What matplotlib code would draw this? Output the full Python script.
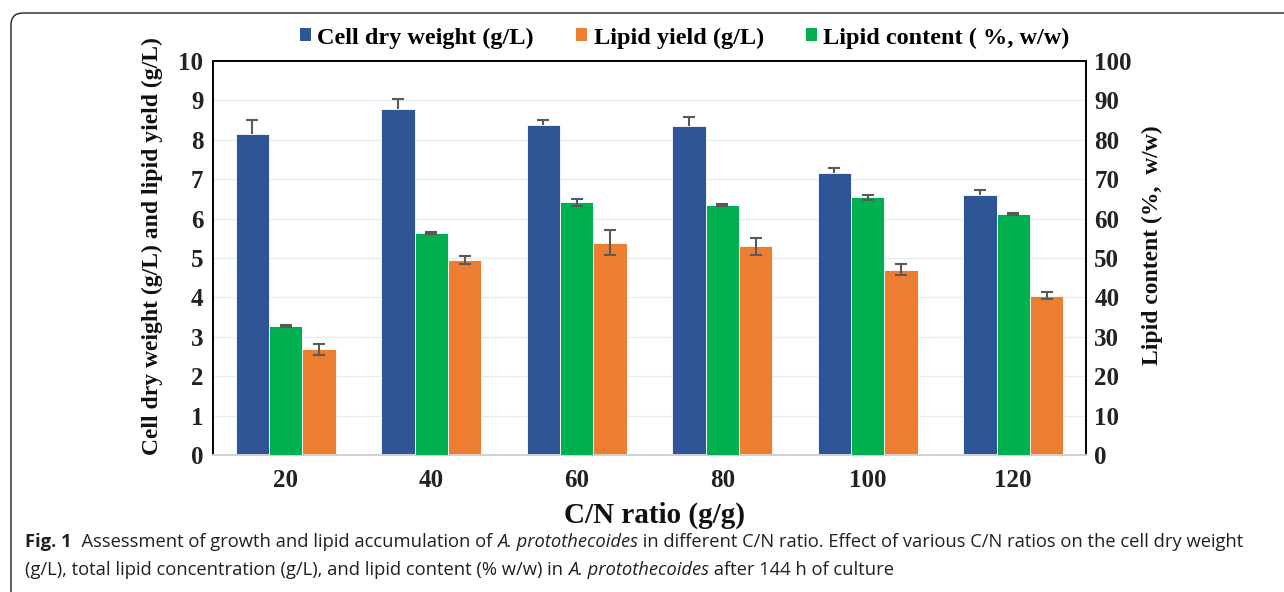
import matplotlib
matplotlib.use("Agg")
import matplotlib.pyplot as plt
from matplotlib import font_manager
from matplotlib.patches import FancyBboxPatch, Patch
from matplotlib.transforms import IdentityTransform
import numpy as np

# ---------------- data ----------------
categories = ["20", "40", "60", "80", "100", "120"]
cell_dry_weight = [8.15, 8.79, 8.38, 8.35, 7.15, 6.59]
cell_dry_weight_err = [0.35, 0.25, 0.12, 0.23, 0.14, 0.14]
lipid_yield = [2.68, 4.95, 5.39, 5.30, 4.70, 4.04]
lipid_yield_err = [0.13, 0.09, 0.32, 0.22, 0.14, 0.09]
lipid_content = [32.8, 56.4, 64.1, 63.5, 65.4, 61.2]
lipid_content_err = [0.3, 0.3, 0.8, 0.3, 0.6, 0.2]
left_ticks = list(range(0, 11))
right_ticks = list(range(0, 101, 10))

legend_labels = ["Cell dry weight (g/L)", "Lipid yield (g/L)", "Lipid content ( %, w/w)"]
left_label = "Cell dry weight (g/L) and lipid yield (g/L)"
right_label = "Lipid content (%,  w/w)"
x_label = "C/N ratio (g/g)"
caption_line1 = [("Fig. 1", "bold", "normal"),
                 ("  Assessment of growth and lipid accumulation of ", "normal", "normal"),
                 ("A. protothecoides", "normal", "italic"),
                 (" in different C/N ratio. Effect of various C/N ratios on the cell dry weight", "normal", "normal")]
caption_line2 = [("(g/L), total lipid concentration (g/L), and lipid content (% w/w) in ", "normal", "normal"),
                 ("A. protothecoides", "normal", "italic"),
                 (" after 144 h of culture", "normal", "normal")]

BLUE = "#2F5597"
ORANGE = "#ED7D31"
GREEN = "#00B050"
ERR = "#595959"

SERIF = "Liberation Serif"
avail = {f.name for f in font_manager.fontManager.ttflist}
CAP_FONT = "DejaVu Sans"
for cand in ["Open Sans", "Noto Sans", "Liberation Sans"]:
    if cand in avail:
        CAP_FONT = cand
        break

W, H = 1284, 592
fig = plt.figure(figsize=(W / 100, H / 100), dpi=100)
fig.patch.set_facecolor("white")

# outer rounded frame
box = FancyBboxPatch((11, -60), 1500, (H - 13) + 60,
                     boxstyle="round,pad=0,rounding_size=12",
                     transform=IdentityTransform(), facecolor="none",
                     edgecolor="#222222", linewidth=1.0)
fig.add_artist(box)

ax = fig.add_axes([213 / W, 1 - 455 / H, 873 / W, 394 / H])
ax2 = ax.twinx()

x = np.arange(len(categories))
bw = 0.229

ax.bar(x - bw, cell_dry_weight, bw, color=BLUE, edgecolor="white", linewidth=0.6, zorder=2)
eb = ax.errorbar(x - bw, cell_dry_weight, yerr=[np.zeros(len(x)), cell_dry_weight_err],
                 fmt="none", ecolor=ERR, elinewidth=1.5, capsize=4, capthick=1.5, zorder=3)
eb[1][0].set_visible(False)
ax.bar(x + bw, lipid_yield, bw, color=ORANGE, edgecolor="white", linewidth=0.6, zorder=2)
ax.errorbar(x + bw, lipid_yield, yerr=lipid_yield_err,
            fmt="none", ecolor=ERR, elinewidth=1.5, capsize=4, capthick=1.5, zorder=3)
ax2.bar(x, lipid_content, bw, color=GREEN, edgecolor="white", linewidth=0.6, zorder=2)
ax2.errorbar(x, lipid_content, yerr=lipid_content_err,
             fmt="none", ecolor=ERR, elinewidth=1.5, capsize=4, capthick=1.5, zorder=3)

ax.set_xlim(-0.5, len(categories) - 0.5)
ax.set_ylim(0, 10)
ax2.set_ylim(0, 100)
ax.set_yticks(left_ticks)
ax2.set_yticks(right_ticks)
ax.set_xticks(x)
ax.set_xticklabels(categories)

ax.set_axisbelow(True)
ax.yaxis.grid(True, color="#E6ECF3", linewidth=1.0)
ax.xaxis.grid(False)

for s in ["left", "top", "right"]:
    ax.spines[s].set_color("black")
    ax.spines[s].set_linewidth(1.4)
ax.spines["bottom"].set_color("#D0D0D0")
ax.spines["bottom"].set_linewidth(1.4)
for s in ax2.spines.values():
    s.set_visible(False)

ax.tick_params(axis="y", length=0, pad=7)
ax.tick_params(axis="x", length=0, pad=10)
ax2.tick_params(axis="y", length=0, pad=6)
for lab in ax.get_yticklabels() + ax.get_xticklabels() + ax2.get_yticklabels():
    lab.set_fontfamily(SERIF)
    lab.set_fontweight("bold")
    lab.set_fontsize(18)
    lab.set_color("#222222")

fig.text(152 / W, 1 - 246 / H, left_label, rotation=90, ha="center", va="center",
         family=SERIF, weight="bold", size=17, color="#111111")
fig.text(1152 / W, 1 - 245 / H, right_label, rotation=90, ha="center", va="center",
         family=SERIF, weight="bold", size=17, color="#111111")
fig.text(655 / W, 1 - 515 / H, x_label, ha="center", va="center",
         family=SERIF, weight="bold", size=21, color="#111111")

handles = [Patch(facecolor=BLUE), Patch(facecolor=ORANGE), Patch(facecolor=GREEN)]
fig.legend(handles, legend_labels, loc="center", bbox_to_anchor=(685 / W, 1 - 38 / H),
           ncol=3, frameon=False, prop=dict(family=SERIF, weight="bold", size=17.5),
           handlelength=0.45, handleheight=0.45, handletextpad=0.25, columnspacing=1.75,
           borderpad=0.1)

# ---------------- caption ----------------
renderer = fig.canvas.get_renderer()


def seg_width(txt, weight, style, size):
    t1 = fig.text(0, 0, "|" + txt + "|", family=CAP_FONT, weight=weight, style=style, size=size)
    t2 = fig.text(0, 0, "||", family=CAP_FONT, weight=weight, style=style, size=size)
    w = t1.get_window_extent(renderer).width - t2.get_window_extent(renderer).width
    t1.remove()
    t2.remove()
    return w


base = 10.0
natural = sum(seg_width(t, w, s, base) for t, w, s in caption_line1)
cap_size = base * 1220.0 / natural


def draw_line(segs, x0, ybase):
    xp = x0
    for t, w, s in segs:
        fig.text(xp / W, 1 - ybase / H, t, family=CAP_FONT, weight=w, style=s,
                 size=cap_size, ha="left", va="baseline", color="#231F20")
        xp += seg_width(t, w, s, cap_size)


draw_line(caption_line1, 25, 547)
draw_line(caption_line2, 25, 575)

fig.savefig("out.png", dpi=100, facecolor="white")
